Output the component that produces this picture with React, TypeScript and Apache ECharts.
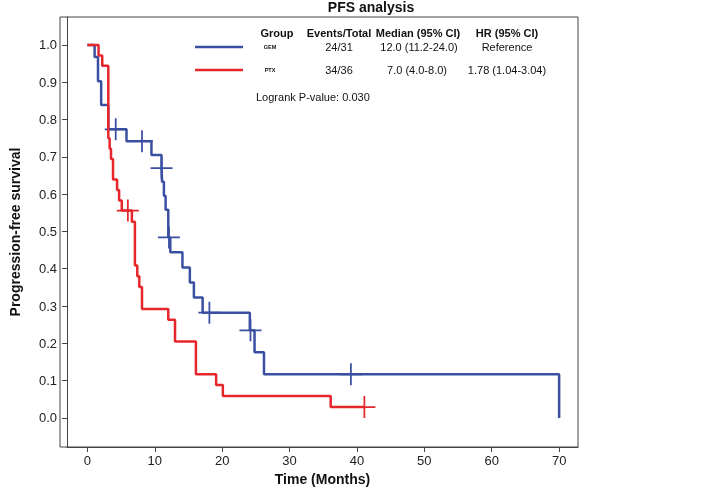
import React, { useEffect, useRef } from "react";
import * as echarts from "echarts";

// ---- Data ----
const gemTimes = [0, 1.07, 1.57, 2.04, 3.1, 5.8, 9.5, 11.0, 11.08, 11.35, 11.6, 12.0, 12.3, 14.1, 15.2, 15.8, 17.1, 24.1, 24.8, 26.2, 70];
const gemSurv = [1.0, 0.968, 0.903, 0.839, 0.774, 0.742, 0.705, 0.670, 0.633, 0.596, 0.558, 0.484, 0.444, 0.403, 0.363, 0.323, 0.282, 0.235, 0.176, 0.117, 0.0];
const gemCensorTimes = [4.2, 8.1, 11.0, 12.1, 18.1, 24.2, 39.1];
const gemCensorSurv = [0.774, 0.742, 0.670, 0.484, 0.282, 0.235, 0.117];

const ptxTimes = [0, 1.65, 2.2, 3.1, 3.3, 3.5, 3.8, 4.4, 4.7, 5.1, 6.6, 7.05, 7.4, 7.7, 8.1, 12.0, 13.0, 16.1, 19.1, 20.1, 36.1, 41.1];
const ptxSurv = [1.0, 0.972, 0.944, 0.750, 0.722, 0.694, 0.639, 0.611, 0.583, 0.556, 0.526, 0.409, 0.380, 0.351, 0.292, 0.263, 0.205, 0.117, 0.088, 0.0585, 0.029, 0.029];
const ptxCensorTimes = [6.0, 41.1];
const ptxCensorSurv = [0.556, 0.029];

const xTicks = [0, 10, 20, 30, 40, 50, 60, 70];
const yTicks = [0, 0.1, 0.2, 0.3, 0.4, 0.5, 0.6, 0.7, 0.8, 0.9, 1.0];

const tableHeaders = ["Group", "Events/Total", "Median (95% CI)", "HR (95% CI)"];
const groupNames = ["GEM", "PTX"];
const eventsTotal = ["24/31", "34/36"];
const medians = ["12.0 (11.2-24.0)", "7.0 (4.0-8.0)"];
const hazardRatios = ["Reference", "1.78 (1.04-3.04)"];
const pValueText = "Logrank P-value: 0.030";
const titleText = "PFS analysis";

const BLUE = "#3a4fa2";
const RED = "#e5262b";
const FONT = "Liberation Sans, Arial, sans-serif";
const PLUS = "path://M9.2,0H10.8V20H9.2Z M0,9.2H20V10.8H0Z";

export default function App() {
  const ref = useRef<HTMLDivElement>(null);
  useEffect(() => {
    if (!ref.current) return;
    const chart = echarts.init(ref.current, undefined, { renderer: "svg" });
    const pair = (t: number[], s: number[]) => t.map((v, i) => [v, s[i]]);
    const headerX = [277, 339, 418, 507];
    const groupX = 270;
    const rowMedianX = [419, 417];
    const rowY = [47, 70];
    const graphics: any[] = [];
    graphics.push({ type: "rect", shape: { x: 60, y: 17, width: 518, height: 430 }, style: { fill: "none", stroke: "#444", lineWidth: 1 }, z: 10 });
    graphics.push({ type: "text", x: 371, y: 7, style: { text: titleText, font: "bold 14px " + FONT, fill: "#111", textAlign: "center", textVerticalAlign: "middle" } });
    tableHeaders.forEach((h, i) => {
      graphics.push({ type: "text", x: headerX[i], y: 33, style: { text: h, font: "bold 11px " + FONT, fill: "#111", textAlign: "center", textVerticalAlign: "middle" } });
    });
    groupNames.forEach((g, r) => {
      const color = r === 0 ? BLUE : RED;
      graphics.push({ type: "line", shape: { x1: 195, y1: rowY[r], x2: 243, y2: rowY[r] }, style: { stroke: color, lineWidth: 2.5 } });
      graphics.push({ type: "text", x: groupX, y: rowY[r], style: { text: g, font: "bold 5.5px " + FONT, fill: "#111", textAlign: "center", textVerticalAlign: "middle" } });
      graphics.push({ type: "text", x: headerX[1], y: rowY[r], style: { text: eventsTotal[r], font: "11px " + FONT, fill: "#111", textAlign: "center", textVerticalAlign: "middle" } });
      graphics.push({ type: "text", x: rowMedianX[r], y: rowY[r], style: { text: medians[r], font: "11px " + FONT, fill: "#111", textAlign: "center", textVerticalAlign: "middle" } });
      graphics.push({ type: "text", x: headerX[3], y: rowY[r], style: { text: hazardRatios[r], font: "11px " + FONT, fill: "#111", textAlign: "center", textVerticalAlign: "middle" } });
    });
    graphics.push({ type: "text", x: 256, y: 97, style: { text: pValueText, font: "11px " + FONT, fill: "#111", textAlign: "left", textVerticalAlign: "middle" } });

    chart.setOption({
      animation: false,
      grid: { left: 60, top: 17, width: 518, height: 430, show: false },
      xAxis: {
        type: "value", min: -3.03, max: 72.8,
        name: "Time (Months)", nameLocation: "middle", nameGap: 25,
        nameTextStyle: { fontFamily: FONT, fontWeight: "bold", fontSize: 14, color: "#111" },
        splitLine: { show: false },
        axisLine: { show: true, onZero: false, lineStyle: { color: "#444", width: 1 } },
        axisTick: { show: true, customValues: xTicks, length: 5, lineStyle: { color: "#444" } },
        axisLabel: { customValues: xTicks, fontFamily: FONT, fontSize: 13, color: "#222", margin: 7 },
      },
      yAxis: {
        type: "value", min: -0.078, max: 1.075,
        name: "Progression-free survival", nameLocation: "middle", nameGap: 45, nameRotate: 90,
        nameTextStyle: { fontFamily: FONT, fontWeight: "bold", fontSize: 14, color: "#111" },
        splitLine: { show: false },
        axisLine: { show: true, onZero: false, lineStyle: { color: "#444", width: 1 } },
        axisTick: { show: true, customValues: yTicks, length: 5, lineStyle: { color: "#444" } },
        axisLabel: { customValues: yTicks, fontFamily: FONT, fontSize: 13, color: "#222", margin: 10, formatter: (v: number) => v.toFixed(1) },
      },
      series: [
        { type: "line", step: "end", data: pair(gemTimes, gemSurv), showSymbol: false, lineStyle: { color: BLUE, width: 2.5 }, z: 2 },
        { type: "scatter", data: pair(gemCensorTimes, gemCensorSurv), symbol: PLUS, symbolSize: 22, itemStyle: { color: BLUE, opacity: 1 }, z: 3 },
        { type: "line", step: "end", data: pair(ptxTimes, ptxSurv), showSymbol: false, lineStyle: { color: RED, width: 2.5 }, z: 4 },
        { type: "scatter", data: pair(ptxCensorTimes, ptxCensorSurv), symbol: PLUS, symbolSize: 22, itemStyle: { color: RED, opacity: 1 }, z: 5 },
      ],
      graphic: graphics,
    });
    return () => chart.dispose();
  }, []);
  return <div ref={ref} style={{ position: "fixed", left: 0, top: 0, width: 709, height: 497 }} />;
}
